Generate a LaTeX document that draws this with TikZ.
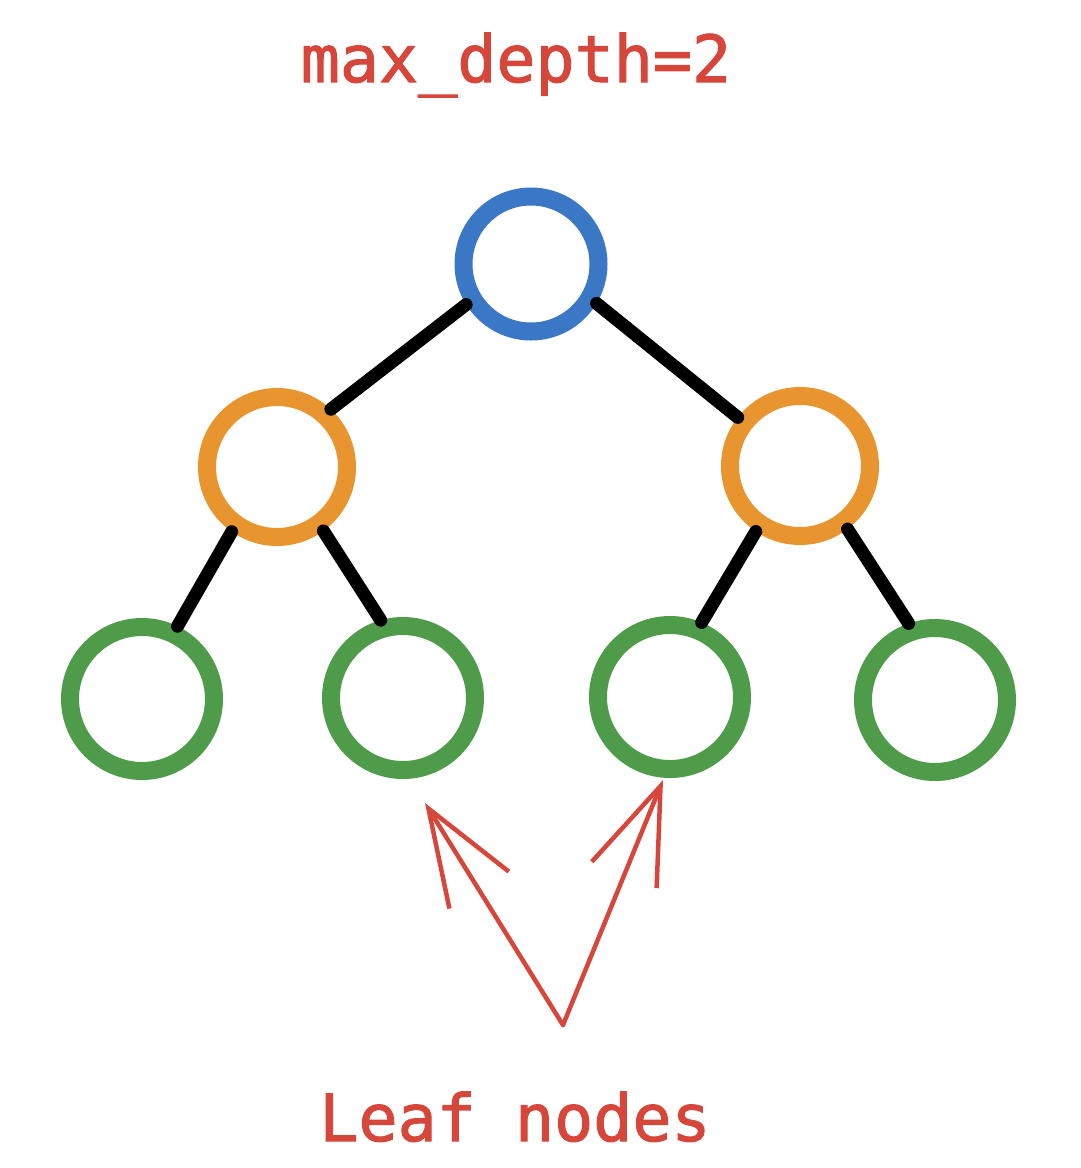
\documentclass[tikz,border=0pt]{standalone}
\usepackage{fontspec}
\newfontfamily\lblfont{DejaVu Sans Mono}[FakeBold=1.6]
\usetikzlibrary{arrows.meta}
\definecolor{tred}{HTML}{D6463B}
\definecolor{tblue}{HTML}{3A78C6}
\definecolor{torange}{HTML}{E9952F}
\definecolor{tgreen}{HTML}{4E9C4A}
\tikzset{
  nd/.style={circle,draw=#1,line width=18pt,minimum size=140pt,inner sep=0pt},
  leafnd/.style={nd=tgreen,minimum size=144pt},
  branch/.style={line width=13pt,line cap=round,draw=black},
  ptr/.style={-{Straight Barb[length=96pt,width=70pt]},line width=4.5pt,draw=tred,line cap=round,line join=round},
  lbl/.style={font=\fontsize{65}{70}\selectfont\lblfont,text=tred,anchor=base,inner sep=0pt},
}
\begin{document}
\begin{tikzpicture}[x=1pt,y=-1pt]
  \useasboundingbox (0,0) rectangle (1080,1168);
  \node[lbl] (title) at (516,82) {max\_depth=2};
  % tree
  \node[nd=tblue,minimum size=135pt] (root) at (531,264) {};
  \node[nd=torange] (l) at (277,467) {};
  \node[nd=torange] (r) at (800,466) {};
  \node[leafnd] (ll) at (142,699) {};
  \node[leafnd] (lr) at (403,698) {};
  \node[leafnd] (rl) at (670,697) {};
  \node[leafnd] (rr) at (935,700) {};
  \draw[branch] (root.212) -- (l.47);
  \draw[branch] (root.329) -- (r.142);
  \draw[branch] (l.235) -- (ll.64);
  \draw[branch] (l.306) -- (lr.106);
  \draw[branch] (r.236) -- (rl.67);
  \draw[branch] (r.307) -- (rr.109);
  % pointers to the leaves
  \coordinate (vtx) at (563,1025);
  \coordinate (tipl) at (425,803);
  \coordinate (tipr) at (663,780);
  \draw[ptr] (vtx) -- (tipl);
  \draw[ptr] (vtx) -- (tipr);
  \node[lbl] (leaf) at (515,1141) {Leaf nodes};
\end{tikzpicture}
\end{document}
